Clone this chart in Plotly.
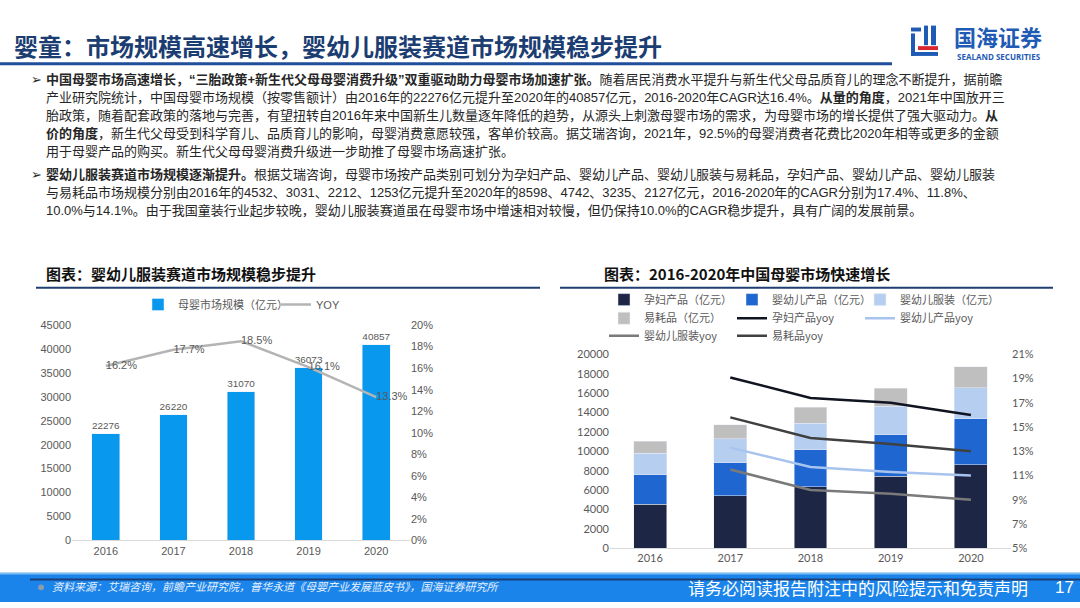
import plotly.graph_objects as go

# ---------------- data ----------------
years = ["2016", "2017", "2018", "2019", "2020"]
market_size = [22276, 26220, 31070, 36073, 40857]
market_yoy = [0.162, 0.177, 0.185, 0.161, 0.133]
market_yoy_labels = ["16.2%", "17.7%", "18.5%", "16.1%", "13.3%"]

maternity = [4532, 5398, 6337, 7414, 8598]
infant_products = [3031, 3434, 3836, 4269, 4742]
infant_apparel = [2212, 2466, 2708, 2965, 3235]
consumables = [1253, 1451, 1656, 1881, 2127]
maternity_yoy = [None, 0.191, 0.174, 0.170, 0.160]
infant_products_yoy = [None, 0.133, 0.117, 0.113, 0.110]
infant_apparel_yoy = [None, 0.115, 0.098, 0.095, 0.090]
consumables_yoy = [None, 0.158, 0.141, 0.136, 0.130]

W, H = 1080, 608
def px(x): return x / W
def py(y): return 1 - y / H

CJK = "Liberation Sans, Noto Sans CJK SC"
GRAY = "#595959"

fig = go.Figure()

# ---------------- left chart ----------------
fig.add_trace(go.Bar(
    x=years, y=market_size, name="母婴市场规模（亿元）",
    marker_color="#0898EE", width=0.41,
    text=[str(v) for v in market_size], textposition="outside",
    textfont=dict(size=11, color=GRAY, family="Liberation Sans"),
    cliponaxis=False, xaxis="x", yaxis="y", legend="legend"))
fig.add_trace(go.Scatter(
    x=years, y=market_yoy, name="YOY", mode="lines+text",
    line=dict(color="#b4b4b4", width=2.5),
    text=market_yoy_labels, textposition="middle right",
    textfont=dict(size=11, color=GRAY, family="Liberation Sans"),
    cliponaxis=False, xaxis="x", yaxis="y2", legend="legend2"))

# ---------------- right chart ----------------
bar_specs = [
    ("孕妇产品（亿元）", maternity, "#1d2645"),
    ("婴幼儿产品（亿元）", infant_products, "#1f66d1"),
    ("婴幼儿服装（亿元）", infant_apparel, "#b6cff0"),
    ("易耗品（亿元）", consumables, "#bfbfbf"),
]
line_specs = [
    ("孕妇产品yoy", maternity_yoy, "#0f1420"),
    ("婴幼儿产品yoy", infant_products_yoy, "#a8c3ee"),
    ("婴幼儿服装yoy", infant_apparel_yoy, "#7a7a7a"),
    ("易耗品yoy", consumables_yoy, "#404040"),
]
# legend slots (row, col) for the right chart, in trace order
slots = [(0, 0), (0, 1), (0, 2), (1, 0), (1, 1), (1, 2), (2, 0), (2, 1)]
row_y = [299, 318, 336]
col_x = [604, 732, 860]

legend_layouts = {}
idx = 0
for name, vals, col in bar_specs:
    key = "legend%d" % (idx + 3)
    fig.add_trace(go.Bar(x=years, y=vals, name=name, marker_color=col,
                         width=0.41, xaxis="x2", yaxis="y3", legend=key))
    legend_layouts[key] = slots[idx]
    idx += 1
for name, vals, col in line_specs:
    key = "legend%d" % (idx + 3)
    fig.add_trace(go.Scatter(x=years, y=vals, name=name, mode="lines",
                             line=dict(color=col, width=2.5),
                             xaxis="x2", yaxis="y4", legend=key))
    legend_layouts[key] = slots[idx]
    idx += 1

tickf = dict(size=11, color=GRAY, family="Liberation Sans")
tickf2 = dict(size=11, color=GRAY, family="Lato")

def leg(x, y, size=11, family="Noto Sans CJK SC"):
    return dict(orientation="h", x=px(x), y=py(y), xanchor="left", yanchor="middle",
                font=dict(size=size, color=GRAY, family=family),
                bgcolor="rgba(0,0,0,0)", itemwidth=30, traceorder="normal")

layout_legends = {
    "legend": leg(138, 304, 11, CJK),
    "legend2": leg(276, 304, 11, CJK),
}
for key, (r, c) in legend_layouts.items():
    layout_legends[key] = leg(col_x[c], row_y[r])

fig.update_layout(
    width=W, height=H, margin=dict(l=0, r=0, t=0, b=0),
    paper_bgcolor="white", plot_bgcolor="white",
    barmode="stack", showlegend=True,
    xaxis=dict(domain=[px(72), px(410)], anchor="y", type="category",
               showline=True, linecolor="#d9d9d9", linewidth=1, ticks="",
               tickfont=tickf, showgrid=False),
    yaxis=dict(domain=[py(545), py(325)], anchor="x", range=[0, 45000], dtick=5000,
               tickformat="d", showgrid=False, zeroline=False, tickfont=tickf),
    yaxis2=dict(overlaying="y", side="right", anchor="x", range=[0, 0.20], dtick=0.02,
                tickformat=".0%", showgrid=False, zeroline=False, tickfont=tickf),
    xaxis2=dict(domain=[px(610), px(1011)], anchor="y3", type="category",
                showline=True, linecolor="#d9d9d9", linewidth=1, ticks="",
                tickfont=tickf2, showgrid=False),
    yaxis3=dict(domain=[py(553), py(355)], anchor="x2", range=[0, 20000], dtick=2000,
                tickformat="d", showgrid=False, zeroline=False, tickfont=tickf2),
    yaxis4=dict(overlaying="y3", side="right", anchor="x2", range=[0.05, 0.21],
                tick0=0.05, dtick=0.02, tickformat=".0%", showgrid=False,
                zeroline=False, tickfont=tickf2),
    **layout_legends,
)

shapes = []
annotations = []

def rect(x0, y0, x1, y1, color, line_w=0):
    shapes.append(dict(type="rect", xref="paper", yref="paper",
                       x0=px(x0), x1=px(x1), y0=py(y1), y1=py(y0),
                       fillcolor=color, line=dict(width=line_w), layer="above"))

def hline(x0, x1, y, color, w):
    shapes.append(dict(type="line", xref="paper", yref="paper",
                       x0=px(x0), x1=px(x1), y0=py(y), y1=py(y),
                       line=dict(color=color, width=w)))

def text(x, y, s, size, color, family=CJK, xanchor="left"):
    annotations.append(dict(xref="paper", yref="paper", x=px(x), y=py(y), text=s,
                            showarrow=False, xanchor=xanchor, yanchor="middle",
                            font=dict(size=size, color=color, family=family)))

# header
text(12, 39, "<b>婴童：市场规模高速增长，婴幼儿服装赛道市场规模稳步提升</b>", 24, "#1b3d72",
     family="Noto Sans CJK SC")
hline(0, 892, 58, "#1f4e9a", 3)

# logo
rect(911, 21, 921, 25, "#1f5bb5")
rect(911, 27, 915, 50, "#1f5bb5")
rect(924, 19, 928, 39, "#1f5bb5")
rect(931, 19, 936, 39, "#1f5bb5")
rect(918, 40, 938, 44, "#d8282f")
rect(911, 46, 938, 50, "#1f5bb5")
text(952, 30, "<b>国海证券</b>", 22, "#1f5bb5", family="Noto Sans CJK SC")
text(955, 51, "<b>SEALAND SECURITIES</b>", 8, "#1f5bb5", family="Open Sans")

# body text
BODY = "#262626"
p1 = [
    "<b>中国母婴市场高速增长，“三胎政策+新生代父母母婴消费升级”双重驱动助力母婴市场加速扩张。</b>随着居民消费水平提升与新生代父母品质育儿的理念不断提升，据前瞻",
    "产业研究院统计，中国母婴市场规模（按零售额计）由2016年的22276亿元提升至2020年的40857亿元，2016-2020年CAGR达16.4%。<b>从量的角度</b>，2021年中国放开三",
    "胎政策，随着配套政策的落地与完善，有望扭转自2016年来中国新生儿数量逐年降低的趋势，从源头上刺激母婴市场的需求，为母婴市场的增长提供了强大驱动力。<b>从</b>",
    "<b>价的角度</b>，新生代父母受到科学育儿、品质育儿的影响，母婴消费意愿较强，客单价较高。据艾瑞咨询，2021年，92.5%的母婴消费者花费比2020年相等或更多的金额",
    "用于母婴产品的购买。新生代父母母婴消费升级进一步助推了母婴市场高速扩张。",
]
p2 = [
    "<b>婴幼儿服装赛道市场规模逐渐提升。</b>根据艾瑞咨询，母婴市场按产品类别可划分为孕妇产品、婴幼儿产品、婴幼儿服装与易耗品，孕妇产品、婴幼儿产品、婴幼儿服装",
    "与易耗品市场规模分别由2016年的4532、3031、2212、1253亿元提升至2020年的8598、4742、3235、2127亿元，2016-2020年的CAGR分别为17.4%、11.8%、",
    "10.0%与14.1%。由于我国童装行业起步较晚，婴幼儿服装赛道虽在母婴市场中增速相对较慢，但仍保持10.0%的CAGR稳步提升，具有广阔的发展前景。",
]
for i, s in enumerate(p1):
    text(44, 74 + i * 18.5, s, 13, BODY)
for i, s in enumerate(p2):
    text(44, 171 + i * 18.5, s, 13, BODY)
text(29, 74, "➢", 13, "#262626", family="DejaVu Sans")
text(29, 171, "➢", 13, "#262626", family="DejaVu Sans")

# chart titles
text(44, 272, "<b>图表：婴幼儿服装赛道市场规模稳步提升</b>", 15, "#111111", family="Noto Sans CJK SC")
hline(36, 540, 287, "#1f3f73", 2)
text(602, 272, "<b>图表：2016-2020年中国母婴市场快速增长</b>", 15, "#111111", family="Noto Sans CJK SC")
hline(560, 1053, 287, "#1f3f73", 2)

# footer
rect(0, 578, 1080, 608, "#1b84ea")
rect(0, 578, 1080, 580, "#7dbdf5")
hline(30, 1080, 585, "#1c3f78", 2)
shapes.append(dict(type="circle", xref="paper", yref="paper",
                   x0=px(38), x1=px(44), y0=py(596), y1=py(590),
                   fillcolor="#8a9bb0", line=dict(width=0)))
text(50, 593, "<i>资料来源：艾瑞咨询，前瞻产业研究院，普华永道《母婴产业发展蓝皮书》，国海证券研究所</i>",
     11, "#e6f0ff")
text(1030, 593, "请务必阅读报告附注中的风险提示和免责声明", 17, "white", xanchor="right",
     family="Noto Sans CJK SC")
text(1064, 593, "17", 17, "white", family="Liberation Sans", xanchor="center")

fig.update_layout(shapes=shapes, annotations=annotations)
fig.write_html("out.html", config={"displayModeBar": False},
               post_script="document.body.style.margin='0';document.body.style.overflow='hidden';")
